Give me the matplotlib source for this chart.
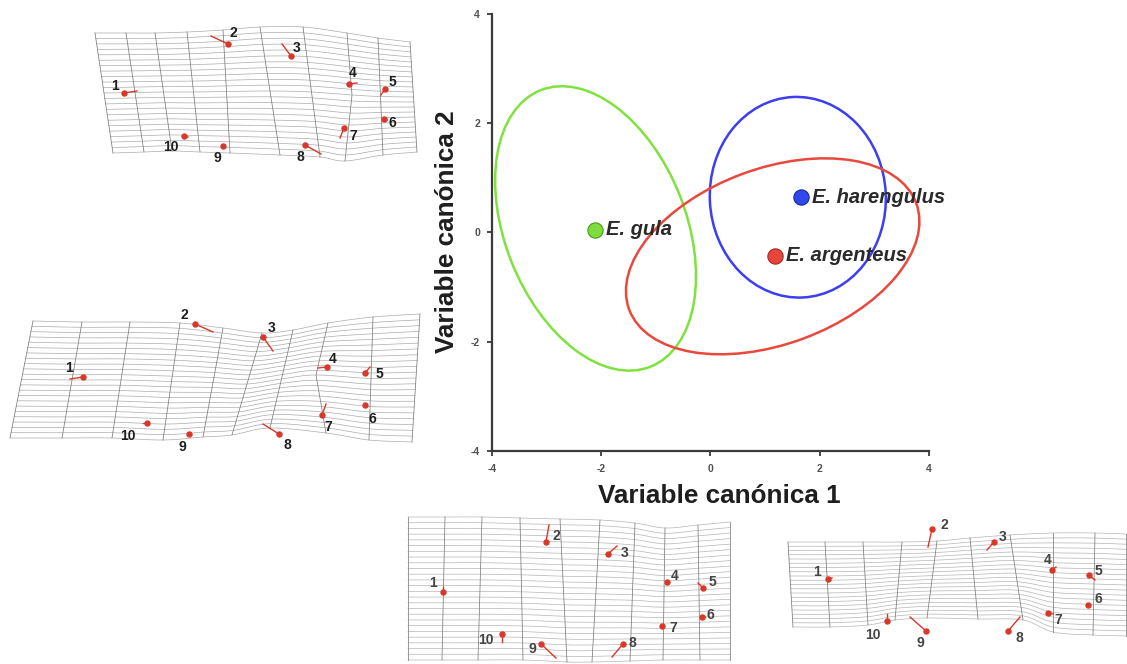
import numpy as np
import matplotlib
matplotlib.use("Agg")
from matplotlib import pyplot as plt
from matplotlib.patches import Ellipse

plt.rcParams['font.family'] = ['Liberation Sans', 'DejaVu Sans']
plt.rcParams['axes.unicode_minus'] = False

# canonical variate plot
species = ['E. gula', 'E. harengulus', 'E. argenteus']
cv1 = [-2.11, 1.65, 1.18]
cv2 = [0.05, 0.64, -0.43]
ell_cx = [-2.10, 1.60, 1.14]
ell_cy = [0.07, 0.64, -0.44]
ell_w = [5.44, 3.22, 5.60]
ell_h = [3.31, 3.67, 3.21]
ell_angle = [-68.3, 3.0, 20.3]
line_colors = ['#80e23f', '#3d3df2', '#e8493c']
face_colors = ['#7fdc3c', '#2f48ee', '#e8463d']
edge_colors = ['#4c9a22', '#1b2a9a', '#a52b22']
ticks = [-4, -2, 0, 2, 4]

# deformation grids: column control points (local px), rows and landmarks
# landmark tuples: (x, y, vector end x, vector end y, label x, label y)
p1_top_x = [10, 41, 70, 102, 138, 175, 218, 262, 293, 325]
p1_top_y = [18, 18, 18, 17, 15, 12, 12, 18, 23, 27]
p1_bot_x = [28, 59, 87, 115, 145, 195, 235, 260, 298, 332]
p1_bot_y = [138, 137, 136, 137, 138, 140, 142, 146, 140, 137]
p1_mid = {7: (267, 80)}
p1_marks = [(39, 78, 52, 76, 30, 71), (143, 29, 126, 21, 148, 18),
            (206, 41, 197, 29, 212, 33), (264, 69, 272, 68, 268, 58),
            (300, 74, 296, 80, 307, 67), (299, 104, 302, 105, 307, 108),
            (259, 113, 255, 123, 268, 121), (220, 130, 236, 139, 215, 142),
            (138, 131, 138, 131, 132, 143), (99, 121, 103, 122, 86, 132)]

p2_top_x = [33, 82, 130, 180, 223, 262, 293, 328, 373, 420]
p2_top_y = [16, 17, 17, 18, 23, 28, 25, 18, 12, 9]
p2_bot_x = [10, 62, 112, 163, 203, 232, 270, 326, 369, 412]
p2_bot_y = [133, 133, 133, 135, 132, 130, 123, 128, 135, 137]
p2_mid = {7: (316, 70)}
p2_marks = [(83, 72, 70, 74, 69, 63), (195, 19, 213, 27, 184, 10),
            (263, 32, 273, 46, 272, 23), (327, 62, 318, 63, 333, 54),
            (365, 68, 370, 62, 379, 69), (365, 100, 365, 100, 372, 114),
            (322, 110, 326, 99, 328, 122), (279, 129, 263, 119, 287, 140),
            (189, 129, 189, 129, 182, 142), (147, 118, 143, 118, 128, 131)]

p3_top_x = [8, 45, 82, 120, 160, 200, 235, 265, 298, 330]
p3_top_y = [7, 7, 7, 8, 9, 10, 13, 18, 15, 12]
p3_bot_x = [8, 42, 78, 123, 167, 192, 230, 263, 300, 330]
p3_bot_y = [150, 150, 150, 150, 152, 152, 151, 150, 150, 150]
p3_mid = {}
p3_marks = [(43, 82, 43, 77, 33, 73), (146, 32, 149, 15, 156, 26),
            (208, 44, 217, 36, 225, 43), (267, 72, 268, 72, 275, 66),
            (303, 78, 298, 73, 312, 72), (302, 107, 305, 107, 310, 105),
            (262, 116, 262, 116, 273, 118), (223, 134, 212, 147, 232, 133),
            (141, 134, 156, 148, 132, 139), (102, 124, 102, 132, 86, 130)]

p4_top_x = [8, 45, 83, 122, 157, 190, 230, 273, 315, 346]
p4_top_y = [27, 27, 27, 27, 26, 23, 20, 18, 18, 19]
p4_bot_x = [13, 50, 88, 115, 147, 198, 243, 273, 313, 346]
p4_bot_y = [112, 112, 110, 105, 103, 104, 105, 117, 120, 121]
p4_mid = {}
p4_marks = [(48, 64, 52, 63, 37, 57), (152, 14, 148, 32, 164, 10),
            (214, 27, 207, 35, 223, 22), (272, 55, 276, 52, 268, 45),
            (309, 60, 315, 65, 318, 56), (308, 90, 308, 90, 318, 84),
            (268, 98, 273, 99, 278, 105), (228, 116, 240, 102, 239, 123),
            (146, 116, 130, 102, 140, 128), (107, 106, 107, 99, 93, 120)]

W, H = 1127, 664


def catmull(xs, ys, n=10):
    pts = np.column_stack([xs, ys]).astype(float)
    p = np.vstack([2 * pts[0] - pts[1], pts, 2 * pts[-1] - pts[-2]])
    out = []
    for i in range(1, len(p) - 2):
        p0, p1, p2, p3 = p[i - 1], p[i], p[i + 1], p[i + 2]
        for t in np.linspace(0, 1, n, endpoint=False):
            out.append(0.5 * (2 * p1 + (-p0 + p2) * t
                              + (2 * p0 - 5 * p1 + 4 * p2 - p3) * t ** 2
                              + (-p0 + 3 * p1 - 3 * p2 + p3) * t ** 3))
    out.append(pts[-1])
    out = np.array(out)
    return out[:, 0], out[:, 1]


def grid_panel(box, top_x, top_y, bot_x, bot_y, mid, marks, n_rows,
               grid_color, text_color):
    x0, y0, w, h = box
    ax = fig.add_axes([x0 / W, 1 - (y0 + h) / H, w / W, h / H])
    ax.set_xlim(0, w)
    ax.set_ylim(h, 0)
    ax.axis('off')
    tx, ty = np.array(top_x, float), np.array(top_y, float)
    bx, by = np.array(bot_x, float), np.array(bot_y, float)
    mx, my = (tx + bx) / 2, (ty + by) / 2
    for c, (cx, cy) in mid.items():
        mx[c], my[c] = cx, cy
    for t in np.linspace(0, 1, n_rows):
        if t <= 0.5:
            s = t / 0.5
            rx, ry = tx + (mx - tx) * s, ty + (my - ty) * s
        else:
            s = (t - 0.5) / 0.5
            rx, ry = mx + (bx - mx) * s, my + (by - my) * s
        sx, sy = catmull(rx, ry)
        ax.plot(sx, sy, color=grid_color, lw=0.5, clip_on=False)
    for i in range(len(tx)):
        ax.plot([tx[i], mx[i], bx[i]], [ty[i], my[i], by[i]],
                color='#7c7c7c', lw=0.55, clip_on=False)
    for k, (lx, ly, vx, vy, nx, ny) in enumerate(marks):
        ax.plot([lx, vx], [ly, vy], color='#d8382a', lw=1.0, clip_on=False)
        ax.plot(lx, ly, 'o', color='#d8382a', ms=3.6, clip_on=False)
        ax.text(nx, ny, str(k + 1), ha='center', va='center', fontsize=10,
                fontweight='bold', color=text_color)


fig = plt.figure(figsize=(W / 100, H / 100), dpi=100)

grid_panel((85, 15, 340, 155), p1_top_x, p1_top_y, p1_bot_x, p1_bot_y,
           p1_mid, p1_marks, 23, '#ababab', '#1e1e1e')
grid_panel((0, 305, 425, 150), p2_top_x, p2_top_y, p2_bot_x, p2_bot_y,
           p2_mid, p2_marks, 23, '#ababab', '#1e1e1e')
grid_panel((400, 510, 340, 154), p3_top_x, p3_top_y, p3_bot_x, p3_bot_y,
           p3_mid, p3_marks, 26, '#b5b5b5', '#444444')
grid_panel((780, 515, 347, 149), p4_top_x, p4_top_y, p4_bot_x, p4_bot_y,
           p4_mid, p4_marks, 21, '#b5b5b5', '#444444')

ax = fig.add_axes([491.7 / W, 1 - 451 / H, 437.3 / W, 437.5 / H])
ax.set_facecolor('none')
for i in range(len(species)):
    ax.add_patch(Ellipse((ell_cx[i], ell_cy[i]), ell_w[i], ell_h[i],
                         angle=ell_angle[i], fill=False,
                         edgecolor=line_colors[i], lw=1.8, zorder=2))
for i in range(len(species)):
    ax.plot(cv1[i], cv2[i], 'o', ms=11, mfc=face_colors[i],
            mec=edge_colors[i], mew=0.8, zorder=3)
    ax.annotate(species[i], (cv1[i], cv2[i]), xytext=(8, 0),
                textcoords='offset points', ha='left', va='center',
                fontsize=14.5, fontweight='bold', fontstyle='italic',
                color='#2a2a2a', zorder=4)

ax.set_xlim(-4, 4)
ax.set_ylim(-4, 4)
ax.set_xticks(ticks)
ax.set_yticks(ticks)
ax.spines['top'].set_visible(False)
ax.spines['right'].set_visible(False)
for side in ['left', 'bottom']:
    ax.spines[side].set_linewidth(1.6)
    ax.spines[side].set_color('#3a3a3a')
ax.tick_params(direction='out', length=3.5, width=1.3, color='#3a3a3a',
               labelsize=7.5, labelcolor='#505050')
ax.tick_params(axis='x', pad=6)
ax.tick_params(axis='y', pad=5)
for lab in ax.get_xticklabels() + ax.get_yticklabels():
    lab.set_fontweight('bold')

fig.text(719 / W, 1 - 496 / H, 'Variable canónica 1', ha='center',
         va='center', fontsize=18.8, fontweight='bold', color='#1e1e1e')
fig.text(447.5 / W, 1 - 231.5 / H, 'Variable canónica 2', ha='center',
         va='center', rotation=90, fontsize=18.8, fontweight='bold',
         color='#1e1e1e')

fig.savefig('out.png', dpi=100)
